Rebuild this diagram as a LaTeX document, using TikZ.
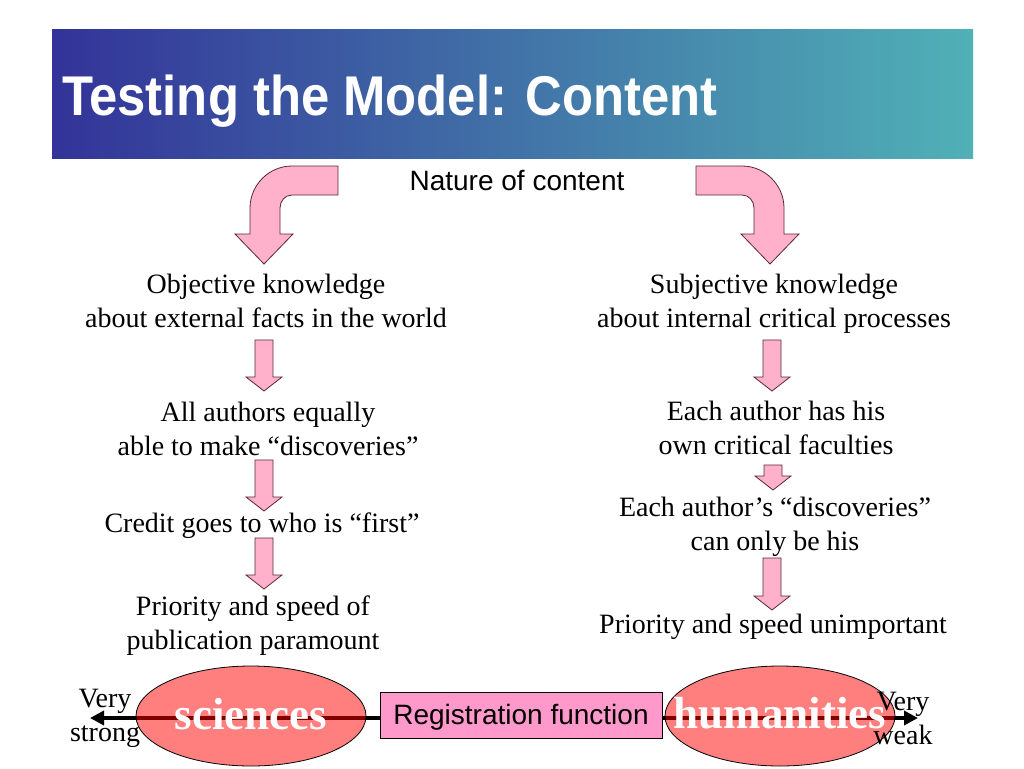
\documentclass[tikz,border=0pt]{standalone}
\usepackage{fontspec}
\setmainfont{Liberation Serif}
\newfontfamily\arialfont{Liberation Sans}
\usetikzlibrary{arrows.meta,shapes.geometric}
\definecolor{titleL}{RGB}{51,51,153}
\definecolor{titleR}{RGB}{80,177,182}
\definecolor{arrowpink}{RGB}{255,176,202}
\definecolor{arrowline}{RGB}{90,40,50}
\definecolor{boxpink}{RGB}{255,153,204}
\newcommand{\dnarrow}[3]{\draw[blockarrow] (#1-9,#2) -- (#1+9,#2) -- (#1+9,#3-14) -- (#1+18,#3-14) -- (#1,#3) -- (#1-18,#3-14) -- (#1-9,#3-14) -- cycle;}
\begin{document}
\begin{tikzpicture}[x=1pt,y=-1pt,
  txt/.style={font=\fontsize{28}{34}\selectfont, align=center, inner sep=0pt},
  sanstxt/.style={font=\arialfont\fontsize{28}{34}\selectfont, inner sep=0pt},
  blockarrow/.style={fill=arrowpink, draw=arrowline, line width=0.8pt, line join=miter},
  field/.style={draw=black, line width=0.8pt, fill=red, fill opacity=0.5, ellipse, minimum width=230pt, minimum height=100pt, inner sep=0pt},
  fieldtxt/.style={font=\fontsize{45}{50}\selectfont\bfseries, text=white, inner sep=0pt}
]
\useasboundingbox (0,0) rectangle (1024,768);
\fill[white] (0,0) rectangle (1024,768);
% title bar
\shade[left color=titleL, right color=titleR] (52,30) rectangle (973,158);
\node[anchor=base west, inner sep=0pt, text=white, font=\arialfont\bfseries\fontsize{56}{60}\selectfont] (title) at (62,115) {\scalebox{0.907}[1]{Testing the Model: Content}};

\node[sanstxt] (nature) at (517,181) {Nature of content};

% curved arrows
\draw[blockarrow] (338,166) -- (292,166) .. controls (269,166) and (250,185) .. (250,208) -- (250,234) -- (235,234) -- (264,264) -- (293,234) -- (280,234) -- (280,208) .. controls (280,201) and (285,195) .. (292,195) -- (338,195) -- cycle;
\draw[blockarrow] (696,166) -- (742,166) .. controls (765,166) and (784,185) .. (784,208) -- (784,234) -- (799,234) -- (770,264) -- (741,234) -- (754,234) -- (754,208) .. controls (754,201) and (749,195) .. (742,195) -- (696,195) -- cycle;

% texts
\node[txt] (obj) at (266,301) {Objective knowledge\\about external facts in the world};
\node[txt] (sub) at (774,304) {Subjective knowledge\\about internal critical processes};
\node[txt] (all) at (268,429) {All authors equally\\able to make “discoveries”};
\node[txt] (each) at (776,428) {Each author has his\\own critical faculties};
\node[txt] (credit) at (262,526) {Credit goes to who is “first”};
\node[txt] (disc) at (775,527) {Each author’s “discoveries”\\can only be his};
\node[txt] (prio) at (253,626) {Priority and speed of\\publication paramount};
\node[txt] (unimp) at (773,627) {Priority and speed unimportant};

% small arrows
\dnarrow{264}{340}{391}
\dnarrow{264}{460}{511}
\dnarrow{264}{538}{589}
\dnarrow{772}{340}{391}
\dnarrow{773}{465}{490}
\dnarrow{772}{558}{610}

% bottom scale
\coordinate (lend) at (90,718);
\coordinate (rend) at (918,718);
\draw[line width=4pt, {Triangle[length=14pt,width=14pt]}-{Triangle[length=14pt,width=14pt]}] (lend) -- (rend);
\node[field] (sci) at (251,716) {};
\node[field] (hum) at (780,716) {};
\node[draw=black, line width=0.8pt, fill=boxpink, minimum width=282pt, minimum height=46pt, inner sep=0pt] (reg) at (521,715) {};
\node[font=\arialfont\fontsize{28}{34}\selectfont, inner sep=0pt] (regt) at (521,717) {Registration function};
\node[fieldtxt] (scit) at (251,714) {sciences};
\node[fieldtxt] (humt) at (780,713) {humanities};
\node[txt] (strong) at (105,718) {Very\\strong};
\node[txt] (weak) at (903,718) {Very\\weak};
\end{tikzpicture}
\end{document}
